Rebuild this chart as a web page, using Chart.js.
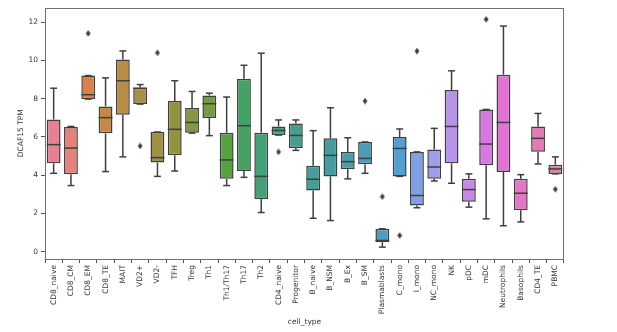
<!DOCTYPE html>
<html><head><meta charset="utf-8">
<script src="https://cdn.jsdelivr.net/npm/chart.js@4/dist/chart.umd.min.js"></script>
<style>html,body{margin:0;padding:0;background:#fff}</style>
</head><body>
<canvas id="c" width="617" height="332"></canvas>
<script>
// ---------- data ----------
const categories = ["CD8_naive","CD8_CM","CD8_EM","CD8_TE","MAIT","VD2+","VD2-","TFH","Treg","Th1","Th1/Th17","Th17","Th2","CD4_naive","Progenitor","B_naive","B_NSM","B_Ex","B_SM","Plasmablasts","C_mono","I_mono","NC_mono","NK","pDC","mDC","Neutrophils","Basophils","CD4_TE","PBMC"];
const whiskerLow  = [4.10,3.46,7.98,4.19,4.96,7.72,3.94,4.22,6.20,6.07,3.46,3.89,2.05,6.10,5.30,1.75,1.63,3.81,4.10,0.24,3.94,2.30,3.70,3.58,2.33,1.72,1.36,1.56,4.59,4.07];
const q1          = [4.62,4.05,7.98,6.19,7.16,7.72,4.66,5.04,6.22,6.99,3.81,4.22,2.76,6.10,5.42,3.20,3.94,4.31,4.57,0.50,3.94,2.42,3.81,4.62,2.61,4.52,4.17,2.17,5.23,4.07];
const median      = [5.60,5.42,8.21,7.01,8.94,8.55,4.92,6.40,6.76,7.74,4.80,6.59,3.94,6.34,6.08,3.79,5.04,4.71,4.88,0.59,5.40,2.94,4.43,6.55,3.25,5.63,6.76,3.06,5.93,4.33];
const q3          = [6.92,6.52,9.21,7.60,10.05,8.57,6.26,7.88,7.51,8.17,6.22,9.04,6.22,6.55,6.71,4.50,5.93,5.22,5.74,1.20,6.00,5.22,5.35,8.45,3.81,7.44,9.26,3.81,6.55,4.55];
const whiskerHigh = [8.55,6.55,9.21,9.09,10.50,8.74,6.26,8.94,8.38,8.29,8.09,9.75,10.38,6.89,6.89,6.33,7.53,5.96,5.74,1.20,6.42,5.22,6.45,9.46,4.07,7.44,11.80,4.03,7.23,4.96];
const outlierCategories = ["CD8_EM","VD2+","VD2-","CD4_naive","B_SM","Plasmablasts","C_mono","I_mono","mDC","PBMC"];
const outlierValues     = [11.42,5.53,10.40,5.22,7.88,2.88,0.85,10.49,12.15,3.27];
const yTicks = [0,2,4,6,8,10,12];
const yAxisTitle = "DCAF15 TPM";
const xAxisTitle = "cell_type";

// ---------- seaborn husl palette (desaturated 0.75) ----------
const Mx = [[3.2406,-1.5372,-0.4986],[-0.9689,1.8758,0.0415],[0.0557,-0.2040,1.0570]];
const refU = 0.19784, refV = 0.46834, labE = 0.008856, labK = 903.3;
function maxChroma(L,H){
  const hr = H*Math.PI/180, sH = Math.sin(hr), cH = Math.cos(hr);
  const sub1 = Math.pow(L+16,3)/1560896, sub2 = sub1>labE?sub1:L/labK;
  let res = Infinity;
  for (const [m1,m2,m3] of Mx){
    const top = (0.99915*m1+1.05122*m2+1.14460*m3)*sub2;
    const rb = 0.86330*m3-0.17266*m2, lb = 0.12949*m3-0.38848*m1;
    const bottom = (rb*sH+lb*cH)*sub2;
    for (const t of [0,1]){
      const C = L*(top-1.05122*t)/(bottom+0.17266*sH*t);
      if (C>0 && C<res) res = C;
    }
  }
  return res;
}
function huslToRgb(H,S,L){
  const C = maxChroma(L,H)/100*S;
  const hr = H*Math.PI/180, U = Math.cos(hr)*C, V = Math.sin(hr)*C;
  const t = (L+16)/116, varY = Math.pow(t,3)>labE?Math.pow(t,3):(116*t-16)/labK;
  const vU = U/(13*L)+refU, vV = V/(13*L)+refV;
  const Y = varY, X = -(9*Y*vU)/((vU-4)*vV-vU*vV), Z = (9*Y-15*vV*Y-vV*X)/(3*vV);
  return Mx.map(r=>{const c=r[0]*X+r[1]*Y+r[2]*Z; const v=c<=0.0031308?12.92*c:1.055*Math.pow(c,1/2.4)-0.055; return Math.min(1,Math.max(0,v));});
}
function rgbToHls(r,g,b){
  const mx=Math.max(r,g,b), mn=Math.min(r,g,b), l=(mx+mn)/2;
  if (mx===mn) return [0,l,0];
  const rc=mx-mn, s = l<=0.5 ? rc/(mx+mn) : rc/(2-mx-mn);
  const rr=(mx-r)/rc, gg=(mx-g)/rc, bb=(mx-b)/rc;
  let h = r===mx ? bb-gg : (g===mx ? 2+rr-bb : 4+gg-rr);
  h = ((h/6)%1+1)%1;
  return [h,l,s];
}
function hlsToRgb(h,l,s){
  if (s===0) return [l,l,l];
  const m2 = l<=0.5 ? l*(1+s) : l+s-l*s, m1 = 2*l-m2;
  const v = (hu)=>{hu=((hu%1)+1)%1; if(hu<1/6) return m1+(m2-m1)*hu*6; if(hu<0.5) return m2; if(hu<2/3) return m1+(m2-m1)*(2/3-hu)*6; return m1;};
  return [v(h+1/3),v(h),v(h-1/3)];
}
const toHex = c => '#'+c.map(v=>Math.round(v*255).toString(16).padStart(2,'0')).join('');
const nC = categories.length;
const boxRgb = categories.map((_,i)=>{
  const hue = ((i/nC+0.01)%1)*359;
  const rgb = huslToRgb(hue, 0.9*99, 0.65*99);
  const [h,l,s] = rgbToHls(...rgb);
  return hlsToRgb(h,l,s*0.75);
});
const boxColors = boxRgb.map(toHex);
const lum = Math.min(...boxRgb.map(c=>rgbToHls(...c)[1]))*0.6;
const gray = toHex([lum,lum,lum]);

// thin diamond marker
const diamond = document.createElement('canvas');
diamond.width = 6; diamond.height = 7;
(function(){const d=diamond.getContext('2d'); d.fillStyle=gray; d.beginPath(); d.moveTo(3,0.3); d.lineTo(5.4,3.5); d.lineTo(3,6.7); d.lineTo(0.6,3.5); d.closePath(); d.fill();})();

const font = {family:"'DejaVu Sans', sans-serif", size:7.5};
const textColor = '#333333';

const boxPlugin = {
  id:'boxParts',
  afterDatasetsDraw(chart){
    const {ctx, scales:{x,y}} = chart;
    const meta = chart.getDatasetMeta(0);
    ctx.save();
    ctx.strokeStyle = gray; ctx.lineWidth = 1.5; ctx.lineCap='butt';
    categories.forEach((c,i)=>{
      const cx = x.getPixelForValue(i);
      const w = meta.data[i].width;
      const line=(x1,y1,x2,y2)=>{ctx.beginPath();ctx.moveTo(x1,y1);ctx.lineTo(x2,y2);ctx.stroke();};
      line(cx, y.getPixelForValue(q3[i]), cx, y.getPixelForValue(whiskerHigh[i]));
      line(cx, y.getPixelForValue(q1[i]), cx, y.getPixelForValue(whiskerLow[i]));
      const hw = w/4;
      line(cx-hw, y.getPixelForValue(whiskerHigh[i]), cx+hw, y.getPixelForValue(whiskerHigh[i]));
      line(cx-hw, y.getPixelForValue(whiskerLow[i]), cx+hw, y.getPixelForValue(whiskerLow[i]));
      const my = y.getPixelForValue(median[i]);
      line(cx-w/2, my, cx+w/2, my);
    });
    const a = chart.chartArea;
    ctx.strokeStyle = '#707070'; ctx.lineWidth = 1;
    ctx.strokeRect(Math.round(a.left)+0.5, Math.round(a.top)+0.5, Math.round(a.right-a.left)-1, Math.round(a.bottom-a.top)-1);
    ctx.restore();
  }
};

new Chart(document.getElementById('c'), {
  type:'bar',
  data:{
    labels: categories,
    datasets:[
      { type:'bar', data: categories.map((_,i)=>[q1[i],q3[i]]), backgroundColor: boxColors, borderColor: gray,
        borderWidth: 1.5, borderSkipped:false, barPercentage:0.8, categoryPercentage:1, order:2 },
      { type:'line', data: outlierCategories.map((c,i)=>({x:c, y:outlierValues[i]})), showLine:false,
        pointStyle: diamond, pointRadius:3, order:1 }
    ]
  },
  options:{
    responsive:false, animation:false, devicePixelRatio:1,
    layout:{padding:{left:0,right:53,top:7,bottom:0}},
    plugins:{legend:{display:false}, tooltip:{enabled:false}},
    scales:{
      x:{ type:'category', offset:true,
        grid:{display:true, drawOnChartArea:false, drawTicks:true, tickLength:4, tickColor:'#555', tickWidth:1},
        border:{display:false},
        ticks:{minRotation:90, maxRotation:90, autoSkip:false, font, color:textColor, padding:2},
        title:{display:true, text:xAxisTitle, font, color:textColor, padding:{top:0,bottom:5}},
        afterFit(s){ s.height = 73; }
      },
      y:{ min:-0.38, max:12.77,
        afterBuildTicks(s){ s.ticks = yTicks.map(v=>({value:v})); },
        grid:{display:true, drawOnChartArea:false, drawTicks:true, tickLength:4, tickColor:'#555', tickWidth:1},
        border:{display:false},
        ticks:{font, color:textColor, padding:3},
        title:{display:true, text:yAxisTitle, font, color:textColor, padding:{top:17,bottom:0}},
        afterFit(s){ s.width = 45; }
      }
    }
  },
  plugins:[boxPlugin]
});
</script>
</body></html>
